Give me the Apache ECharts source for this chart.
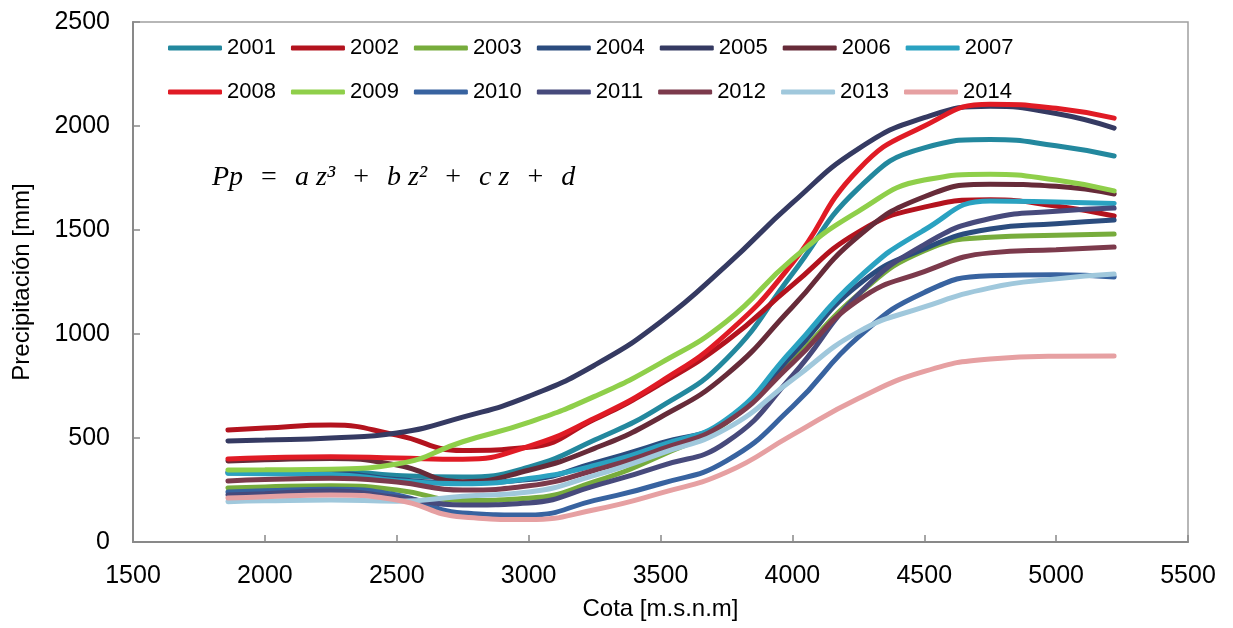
<!DOCTYPE html>
<html>
<head>
<meta charset="utf-8">
<script src="https://cdn.jsdelivr.net/npm/echarts@6/dist/echarts.min.js"></script>
<style>
  html, body { margin: 0; padding: 0; background: #ffffff; }
  #chart { width: 1233px; height: 628px; }
</style>
</head>
<body>
<div id="chart"></div>
<script>
// cota (m.s.n.m) where each curve is read
const cota = [1860, 2000, 2250, 2500, 2750, 3000, 3250, 3500, 3750, 4000, 4250, 4500, 4750, 5000, 5220];

const years = ["2001", "2002", "2003", "2004", "2005", "2006", "2007",
               "2008", "2009", "2010", "2011", "2012", "2013", "2014"];

// precipitación [mm] por año
const p2001 = [337, 338, 342, 320, 312, 360, 490, 650, 880, 1290, 1700, 1895, 1935, 1905, 1856];
const p2002 = [538, 548, 562, 514, 440, 455, 590, 760, 965, 1235, 1490, 1610, 1645, 1615, 1567];
const p2003 = [260, 265, 270, 250, 200, 210, 290, 415, 575, 870, 1190, 1400, 1465, 1475, 1481];
const p2004 = [332, 333, 332, 300, 285, 300, 380, 475, 580, 900, 1236, 1410, 1505, 1530, 1548];
const p2005 = [486, 490, 500, 524, 600, 700, 850, 1058, 1330, 1630, 1890, 2040, 2095, 2060, 1990];
const p2006 = [390, 395, 402, 370, 290, 345, 450, 600, 805, 1130, 1470, 1660, 1720, 1710, 1673];
const p2007 = [330, 328, 325, 295, 280, 305, 368, 465, 590, 925, 1269, 1500, 1640, 1635, 1628];
const p2008 = [399, 405, 410, 404, 398, 460, 595, 770, 1000, 1340, 1790, 2000, 2105, 2085, 2038];
const p2009 = [346, 347, 350, 375, 482, 575, 700, 860, 1060, 1360, 1590, 1740, 1768, 1740, 1688];
const p2010 = [240, 246, 254, 226, 140, 130, 200, 280, 390, 650, 985, 1200, 1280, 1285, 1274];
const p2011 = [226, 232, 245, 215, 178, 188, 270, 365, 480, 800, 1190, 1430, 1555, 1590, 1606];
const p2012 = [293, 300, 306, 288, 250, 270, 345, 445, 575, 860, 1163, 1300, 1390, 1405, 1418];
const p2013 = [194, 198, 202, 196, 220, 240, 320, 425, 545, 780, 1010, 1130, 1222, 1265, 1288];
const p2014 = [211, 218, 226, 202, 120, 108, 155, 235, 335, 515, 690, 820, 880, 893, 894];

const valores = [p2001, p2002, p2003, p2004, p2005, p2006, p2007,
                 p2008, p2009, p2010, p2011, p2012, p2013, p2014];

const colores = ["#23889E", "#B3131E", "#77AC3C", "#2B4C7E", "#353A62", "#672B39", "#2AA2C1",
                 "#E01B25", "#8FCF4A", "#3863A0", "#474A7C", "#7C3A4C", "#A0C8DC", "#E6A0A2"];

const xTicks = { min: 1500, max: 5500, interval: 500 };
const yTicks = { min: 0, max: 2500, interval: 500 };

const chart = echarts.init(document.getElementById("chart"));

const series = years.map(function (y, i) {
  return {
    name: y,
    type: "line",
    smooth: 0.5,
    symbol: "none",
    data: cota.map(function (c, j) { return [c, valores[i][j]]; }),
    lineStyle: { width: 5, color: colores[i], cap: "round" },
    itemStyle: { color: colores[i] },
  };
});

const legendBase = {
  left: 163,
  orient: "horizontal",
  icon: "roundRect",
  itemWidth: 54,
  itemHeight: 5,
  itemGap: 15,
  textStyle: { fontFamily: "Liberation Sans", fontSize: 22, color: "#000000" },
};

const plain = function (v) { return String(v); };

chart.setOption({
  animation: false,
  grid: {
    left: 133,
    right: 45,
    top: 22,
    bottom: 86,
    show: true,
    borderColor: "#A0A0A0",
    borderWidth: 1.5,
  },
  legend: [
    Object.assign({}, legendBase, { top: 32, data: years.slice(0, 7) }),
    Object.assign({}, legendBase, { top: 76, data: years.slice(7) }),
  ],
  xAxis: {
    type: "value",
    min: xTicks.min,
    max: xTicks.max,
    interval: xTicks.interval,
    name: "Cota [m.s.n.m]",
    nameLocation: "middle",
    nameGap: 55,
    nameTextStyle: { fontFamily: "Liberation Sans", fontSize: 24, color: "#000000" },
    splitLine: { show: false },
    axisLine: { show: true, lineStyle: { color: "#898989", width: 2 } },
    axisTick: { show: true, inside: true, length: 7, lineStyle: { color: "#898989", width: 1.5 } },
    axisLabel: { margin: 22, formatter: plain, fontFamily: "Liberation Sans", fontSize: 25, color: "#000000" },
  },
  yAxis: {
    type: "value",
    min: yTicks.min,
    max: yTicks.max,
    interval: yTicks.interval,
    name: "Precipitación [mm]",
    nameLocation: "middle",
    nameGap: 99,
    nameTextStyle: { fontFamily: "Liberation Sans", fontSize: 24, color: "#000000" },
    splitLine: { show: false },
    axisLine: { show: true, lineStyle: { color: "#898989", width: 2 } },
    axisTick: { show: true, inside: true, length: 7, lineStyle: { color: "#898989", width: 1.5 } },
    axisLabel: { margin: 23, formatter: plain, fontFamily: "Liberation Sans", fontSize: 25, color: "#000000" },
  },
  graphic: [
    {
      type: "text",
      left: 212,
      top: 164,
      z: 100,
      style: {
        text: "{i|Pp}{o|\u2002=\u2002}{i|a z³}{o|\u2002+\u2002}{i|b z²}{o|\u2002+\u2002}{i|c z}{o|\u2002+\u2002}{i|d}",
        rich: {
          i: { fontFamily: "Liberation Serif", fontStyle: "italic", fontSize: 28, fill: "#000000" },
          o: { fontFamily: "Liberation Serif", fontSize: 28, fill: "#000000", padding: [0, 4] },
        },
      },
    },
  ],
  series: series,
});
</script>
</body>
</html>
